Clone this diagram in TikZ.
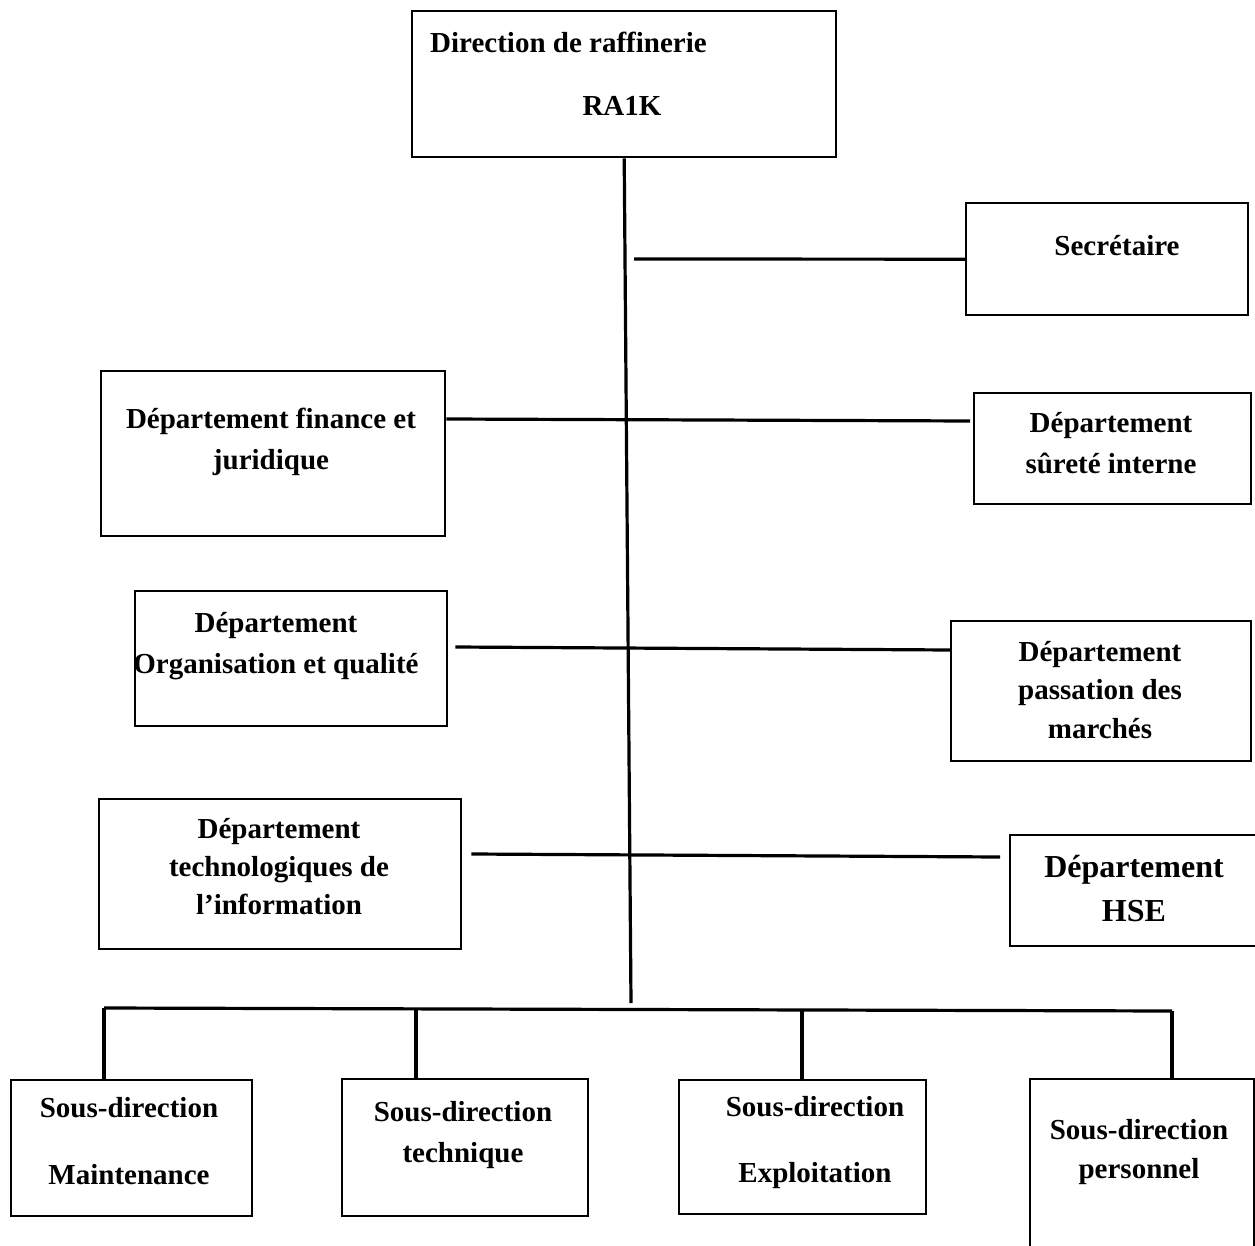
\documentclass[tikz,border=0pt]{standalone}
\usepackage{fontspec}
\setmainfont{Liberation Serif}
\usepackage{xcolor}

\tikzset{
	orgbox/.style={draw=black, line width=2.4pt, inner sep=0pt, anchor=north west},
	orgtext/.style={inner sep=0pt, align=center, font=\fontsize{29}{41}\selectfont\bfseries},
	orgline/.style={draw=black, line width=3.2pt}
}

\begin{document}
\begin{tikzpicture}[x=1pt,y=1pt,yscale=-1,xscale=1]
		% Set diagram size: 1255 x 1246
		\useasboundingbox (0,0) rectangle (1255,1246);
		\clip (0,0) rectangle (1255,1246);

		% Draw the box "Direction de raffinerie RA1K" at the top
		\node[orgbox, minimum width=424pt, minimum height=146pt] (dir) at (411,10) {};
		\node[orgtext, anchor=west] (dir-t1) at (430,42) {Direction de raffinerie};
		\node[orgtext] (dir-t2) at (622,106) {RA1K};

		% Draw the boxes on the right side
		\node[orgbox, minimum width=282pt, minimum height=112pt] (sec) at (965,202) {};
		\node[orgtext] (sec-t) at (1117,246) {Secrétaire};
		\node[orgbox, minimum width=277pt, minimum height=111pt] (sur) at (973,392) {};
		\node[orgtext] (sur-t) at (1111,443) {Département\\sûreté interne};
		\node[orgbox, minimum width=300pt, minimum height=140pt] (pas) at (950,620) {};
		\node[orgtext, font=\fontsize{29}{38.5}\selectfont\bfseries] (pas-t) at (1100,690) {Département\\passation des\\marchés};
		\node[orgbox, minimum width=246pt, minimum height=111pt] (hse) at (1009,834) {};
		\node[orgtext, font=\fontsize{32}{44}\selectfont\bfseries] (hse-t) at (1134,889) {Département\\HSE};

		% Draw the boxes on the left side
		\node[orgbox, minimum width=344pt, minimum height=165pt] (fin) at (100,370) {};
		\node[orgtext] (fin-t) at (271,442) {Département finance et\\juridique};
		\node[orgbox, minimum width=312pt, minimum height=135pt] (org) at (134,590) {};
		\node[orgtext] (org-t) at (276,646) {Département\\Organisation et qualité};
		\node[orgbox, minimum width=362pt, minimum height=150pt] (tec) at (98,798) {};
		\node[orgtext, font=\fontsize{29}{38}\selectfont\bfseries] (tec-t) at (279,867) {Département\\technologiques de\\l’information};

		% Draw the boxes of the sous-directions at the bottom
		\node[orgbox, minimum width=241pt, minimum height=136pt] (sdm) at (10,1079) {};
		\node[orgtext, font=\fontsize{29}{67}\selectfont\bfseries] (sdm-t) at (129,1141) {Sous-direction\\Maintenance};
		\node[orgbox, minimum width=246pt, minimum height=137pt] (sdt) at (341,1078) {};
		\node[orgtext] (sdt-t) at (463,1135) {Sous-direction\\technique};
		\node[orgbox, minimum width=247pt, minimum height=134pt] (sde) at (678,1079) {};
		\node[orgtext, font=\fontsize{29}{66}\selectfont\bfseries] (sde-t) at (815,1143) {Sous-direction\\Exploitation};
		\node[orgbox, minimum width=224pt, minimum height=180pt] (sdp) at (1029,1078) {};
		\node[orgtext, font=\fontsize{29}{39}\selectfont\bfseries] (sdp-t) at (1139,1152) {Sous-direction\\personnel};

		% Free ends of the connectors
		\coordinate (trunk-end) at (631,1003);
		\coordinate (sec-start) at (634,259);
		\coordinate (bar-l) at (104,1008);
		\coordinate (bar-r) at (1172,1011);
		\coordinate (j-sdt) at (416,1009);
		\coordinate (j-sde) at (802,1010);

		% The vertical trunk under the direction
		\draw[orgline] (dir.south) -- (trunk-end);

		% The horizontal lines to the departments
		\draw[orgline] (sec-start) -- (sec.west);
		\draw[orgline] ([yshift=49pt]fin.north east) -- ([xshift=-3pt, yshift=29pt]sur.north west);
		\draw[orgline] ([xshift=7pt, yshift=57pt]org.north east) -- ([yshift=30pt]pas.north west);
		\draw[orgline] ([xshift=9pt, yshift=56pt]tec.north east) -- ([xshift=-9pt, yshift=23pt]hse.north west);

		% The bar and the drops to the sous-directions
		\draw[orgline] (bar-l) -- (bar-r);
		\draw[orgline] (bar-l) -- (bar-l |- sdm.north);
		\draw[orgline] (j-sdt) -- (j-sdt |- sdt.north);
		\draw[orgline] (j-sde) -- (j-sde |- sde.north);
		\draw[orgline] (bar-r) -- (bar-r |- sdp.north);
	\end{tikzpicture}
\end{document}
